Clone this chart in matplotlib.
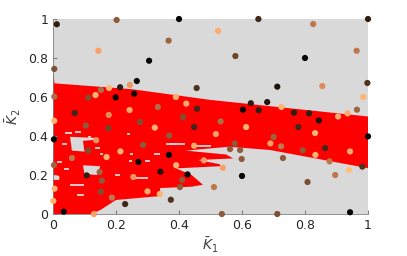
import numpy as np
import matplotlib
matplotlib.use("Agg")
from matplotlib import pyplot as plt

# sample points (K1, K2) and their colour value on the copper map
px = [0.012, 0.202, 0.40, 0.144, 0.367, 0.305, 0.004, 0.266, 0.213, 0.178,
      0.244, 0.152, 0.135, 0.112, 0.199, 0.258, 0.004, 0.456, 0.39, 0.423,
      0.457, 0.069, 0.243, 0.333, 0.177, 0.413, 0.004, 0.276, 0.104, 0.323,
      0.448, 0.176, 0.652, 1.0, 0.826, 0.524, 0.964, 0.579, 0.80, 0.998,
      0.712, 0.855, 0.985, 0.68, 0.628, 0.603, 0.653, 0.725, 0.765, 0.813,
      0.965, 0.935, 0.905, 0.844, 0.532, 0.613, 0.779, 0.832, 0.70, 0.69,
      0.724, 0.793, 0.864, 0.833, 0.943, 1.0, 0.73, 0.878, 0.982, 0.94,
      0.896, 0.808, 0.712, 0.943, 0.536, 0.517, 0.577, 0.562, 0.594, 0.479,
      0.599, 0.539, 0.60, 0.511, 0.369, 0.448, 0.368, 0.391, 0.341, 0.427,
      0.41, 0.403, 0.339, 0.374, 0.003, 0.137, 0.286, 0.112, 0.214, 0.17,
      0.06, 0.271, 0.003, 0.148, 0.255, 0.107, 0.155, 0.005, 0.3, 0.152,
      0.187, 0.001, 0.229, 0.034, 0.13]
py = [0.973, 0.995, 1.0, 0.837, 0.889, 0.786, 0.744, 0.682, 0.650, 0.646,
      0.662, 0.636, 0.610, 0.597, 0.598, 0.617, 0.602, 0.646, 0.60, 0.566,
      0.54, 0.518, 0.533, 0.549, 0.508, 0.497, 0.478, 0.472, 0.453, 0.443,
      0.446, 0.44, 1.0, 1.0, 0.974, 0.938, 0.837, 0.81, 0.80, 0.672,
      0.653, 0.656, 0.60, 0.574, 0.568, 0.535, 0.532, 0.549, 0.52, 0.516,
      0.535, 0.516, 0.50, 0.48, 0.475, 0.446, 0.446, 0.415, 0.395, 0.362,
      0.347, 0.327, 0.338, 0.303, 0.321, 0.398, 0.287, 0.27, 0.243, 0.226,
      0.20, 0.164, 0.0, 0.009, 0.0, 0.41, 0.362, 0.333, 0.328, 0.275,
      0.282, 0.237, 0.195, 0.138, 0.402, 0.35, 0.303, 0.25, 0.217, 0.203,
      0.175, 0.138, 0.103, 0.073, 0.383, 0.378, 0.354, 0.325, 0.321, 0.292,
      0.287, 0.267, 0.251, 0.215, 0.19, 0.198, 0.171, 0.13, 0.116, 0.114,
      0.084, 0.067, 0.051, 0.012, 0.0]
pc = [0.15, 0.45, 0.02, 0.8, 0.5, 0.02, 0.4, 0.05, 0.15, 0.9,
      0.75, 0.55, 0.9, 0.4, 0.02, 0.05, 0.55, 0.25, 0.85, 0.85,
      0.2, 0.2, 0.85, 0.55, 0.7, 0.4, 0.9, 0.4, 0.45, 0.9,
      0.2, 0.35, 0.2, 0.15, 0.6, 0.85, 0.6, 0.35, 0.02, 0.25,
      0.1, 0.7, 0.9, 0.1, 0.15, 0.02, 0.15, 0.9, 0.15, 0.15,
      0.5, 0.85, 0.85, 0.1, 0.55, 0.9, 0.2, 0.9, 0.5, 0.8,
      0.6, 0.45, 0.2, 0.9, 0.85, 0.02, 0.45, 0.6, 0.25, 0.95,
      0.6, 0.4, 0.4, 0.02, 0.45, 0.8, 0.45, 0.45, 0.45, 0.8,
      0.45, 0.8, 0.02, 0.6, 0.45, 0.85, 0.02, 0.9, 0.1, 0.02,
      0.45, 0.45, 0.9, 0.25, 0.02, 0.75, 0.45, 0.4, 0.9, 0.9,
      0.6, 0.02, 0.5, 0.5, 0.75, 0.15, 0.45, 0.9, 0.85, 0.4,
      0.6, 0.9, 0.2, 0.02, 0.8]

# feasible (red) region outline: upper edge then ragged lower edge
region_x = [0.0, 0.0, 0.005, 0.25, 0.5, 1.0,
            1.0, 0.69, 0.56, 0.42, 0.55, 0.572, 0.46, 0.53, 0.53, 0.39,
            0.44, 0.476, 0.44, 0.34, 0.34, 0.20, 0.15, 0.12, 0.0]
region_y = [0.0, 0.73, 0.67, 0.64, 0.585, 0.50,
            0.235, 0.328, 0.345, 0.325, 0.305, 0.285, 0.277, 0.255, 0.245, 0.234,
            0.20, 0.15, 0.14, 0.133, 0.092, 0.072, 0.02, 0.0, 0.0]

# larger gray gaps inside the red region
holes = [
    ([0.054, 0.137, 0.13, 0.095, 0.10, 0.06], [0.396, 0.39, 0.38, 0.375, 0.32, 0.325]),
    ([0.095, 0.15, 0.14, 0.10], [0.25, 0.245, 0.20, 0.205]),
    ([0.0, 0.02, 0.02, 0.0], [0.2, 0.195, 0.175, 0.175]),
]

# short gray streaks: (x start, x end, y)
streak_x0 = [0.038, 0.07, 0.11, 0.235, 0.03, 0.134, 0.15, 0.244, 0.24, 0.292,
             0.37, 0.32, 0.012, 0.034, 0.197, 0.054, 0.075, 0.253, 0.36, 0.44]
streak_x1 = [0.06, 0.09, 0.12, 0.245, 0.045, 0.149, 0.16, 0.254, 0.25, 0.308,
             0.39, 0.34, 0.028, 0.05, 0.213, 0.097, 0.097, 0.30, 0.42, 0.5]
streak_y = [0.417, 0.42, 0.397, 0.41, 0.36, 0.34, 0.31, 0.31, 0.27, 0.27,
            0.357, 0.31, 0.265, 0.23, 0.2, 0.15, 0.1, 0.185, 0.36, 0.35]

ticks = [0, 0.2, 0.4, 0.6, 0.8, 1]
tick_labels = ["0", "0.2", "0.4", "0.6", "0.8", "1"]

bg = "#d9d9d9"

fig = plt.figure(figsize=(4.07, 2.56), dpi=100)
ax = fig.add_axes([53 / 407, 42 / 256, 315 / 407, 195 / 256])
ax.set_facecolor(bg)

ax.fill(region_x, region_y, color="#ff0000", lw=0, zorder=1)
for hx, hy in holes:
    ax.fill(hx, hy, color=bg, lw=0, zorder=2)
ax.hlines(streak_y, streak_x0, streak_x1, colors=bg, linewidth=1.3, zorder=2)

ax.scatter(px, py, c=pc, cmap="copper", vmin=0, vmax=1, s=20,
           edgecolors="none", zorder=3, clip_on=False)

ax.set_xlim(0, 1)
ax.set_ylim(0, 1)
ax.set_xticks(ticks)
ax.set_xticklabels(tick_labels)
ax.set_yticks(ticks)
ax.set_yticklabels(tick_labels)
ax.tick_params(direction="in", length=3, colors="#808080", labelcolor="#262626",
               labelsize=9)
for side in ["top", "right"]:
    ax.spines[side].set_visible(False)
for side in ["left", "bottom"]:
    ax.spines[side].set_color("#808080")
    ax.spines[side].set_linewidth(0.6)

ax.set_xlabel(r"$\bar{K}_1$", fontsize=10, color="#404040", labelpad=3)
ax.set_ylabel(r"$\bar{K}_2$", fontsize=10, color="#404040", labelpad=4)

fig.savefig("out.png", dpi=100)
